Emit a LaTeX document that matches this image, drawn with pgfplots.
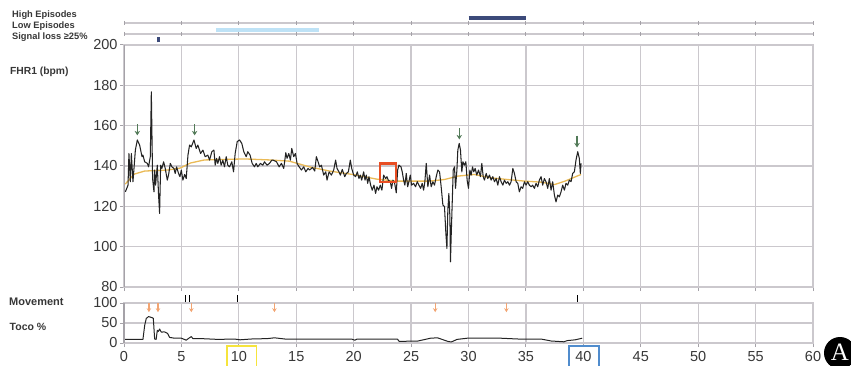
\documentclass[border=0pt]{standalone}
\usepackage{pgfplots}
\pgfplotsset{compat=1.18}
\usepackage{fontspec}
\setmainfont{Liberation Sans}
\newfontfamily\serifA{Liberation Serif}
\usetikzlibrary{arrows.meta}
\definecolor{gridc}{RGB}{203,200,205}
\definecolor{axc}{RGB}{165,162,168}
\definecolor{txt}{RGB}{55,55,55}
\definecolor{base}{RGB}{234,186,86}
\definecolor{navy}{RGB}{60,74,122}
\definecolor{lblue}{RGB}{190,226,246}
\definecolor{garrow}{RGB}{82,122,88}
\definecolor{oarrow}{RGB}{242,165,115}
\definecolor{yframe}{RGB}{246,228,60}
\definecolor{bframe}{RGB}{80,140,205}
\definecolor{trace}{RGB}{35,35,35}
\definecolor{roi}{RGB}{232,78,36}
\pgfplotsset{
  ecg/.style={scale only axis, width=689pt, xmin=0, xmax=60,
    xtick={0,5,...,60},
    grid=major, major grid style={gridc, line width=1.3pt},
    axis line style={gridc, line width=1.3pt},
    tick style={axc, line width=1pt}, tick align=outside, major tick length=4pt,
    xtick pos=bottom, ytick pos=left,
    ticklabel style={font=\fontsize{14.5}{14.5}\selectfont, text=txt},
    yticklabel style={xshift=1pt},
    /pgf/number format/assume math mode=true},
}
\begin{document}
\begin{tikzpicture}
\useasboundingbox (0pt,0pt) rectangle (851pt,-366pt);

% left labels
\begin{scope}[every node/.style={anchor=west, inner sep=0pt, text=txt}]
\node[font=\bfseries\fontsize{9.3}{9.3}\selectfont] at (12pt,-15pt) {High Episodes};
\node[font=\bfseries\fontsize{9.3}{9.3}\selectfont] at (12pt,-26pt) {Low Episodes};
\node[font=\bfseries\fontsize{9.3}{9.3}\selectfont] at (12pt,-37pt) {Signal loss ≥25\%};
\node[font=\bfseries\fontsize{10.3}{10.3}\selectfont] at (10pt,-72pt) {FHR1 (bpm)};
\node[font=\bfseries\fontsize{11}{11}\selectfont] at (9pt,-302pt) {Movement};
\node[font=\bfseries\fontsize{10.5}{10.5}\selectfont] at (9.5pt,-327pt) {Toco \%};
\end{scope}

% episode strips
\begin{axis}[at={(124pt,-45pt)}, anchor=south west, scale only axis, width=689pt, height=40pt,
  xmin=0, xmax=60, ymin=0, ymax=40, hide axis, clip=false]
\addplot[gridc, line width=1.5pt] coordinates {(0,22) (60,22)};
\addplot[gridc, line width=1.5pt] coordinates {(0,11) (60,11)};
\addplot[only marks, mark=|, mark size=2pt, mark options={axc, line width=1pt}] coordinates {
(0,22)(5,22)(10,22)(15,22)(20,22)(25,22)(30,22)(35,22)(40,22)(45,22)(50,22)(55,22)(60,22)
(0,11)(5,11)(10,11)(15,11)(20,11)(25,11)(30,11)(35,11)(40,11)(45,11)(50,11)(55,11)(60,11)};
\addplot[navy, line width=3.5pt] coordinates {(30,27) (35,27)};
\addplot[lblue, line width=3.5pt] coordinates {(8,15) (17,15)};
\addplot[navy, line width=3pt] coordinates {(3,2.5) (3,7.5)};
\end{axis}

% FHR panel
\begin{axis}[ecg, at={(124pt,-45pt)}, anchor=north west, height=242pt,
  ymin=80, ymax=200, ytick={80,100,...,200}, xticklabels={}]
\addplot[base, line width=1.3pt] coordinates {
(0.1,131)(0.9,136)(1.8,137.5)(3.8,138)(4.9,139)(5.8,141.5)(7,143)(10.5,143.5)(12.7,143)
(14.4,142.4)(16.2,139.5)(17.9,137.5)(19.9,135.8)(22,133.5)(23.7,132.5)(26.6,132.5)(27.9,133.3)
(29.1,135)(30.5,135.8)(32,134.1)(33.4,133.3)(34.9,132.5)(36.3,132)(37.5,130.8)(38.4,132.5)(39.8,135.8)};
\addplot[trace, line width=1.05pt, line join=round] coordinates {
(0.12,127.2)(0.35,130.5)(0.43,146.2)(0.55,132.2)(0.64,146.2)(0.78,132.2)(0.87,138.8)(0.99,147.9)
(1.16,152.9)(1.36,150.4)(1.57,144.6)(1.65,145.4)(1.80,142.1)(2.03,141.3)(2.14,139.6)(2.29,144.6)
(2.38,176.8)(2.49,133.8)(2.61,127.2)(2.67,138)(2.75,130.5)(2.90,140.4)(3.01,125.6)(3.1,116.5)
(3.19,140.4)(3.30,138.8)(3.45,142.1)(3.59,138.8)(3.77,133)(3.88,135.5)(4.03,141.3)(4.17,139.6)
(4.35,138.8)(4.46,136.3)(4.58,139.6)(4.75,136.3)(4.87,134.7)(4.99,138)(5.13,133)(5.28,135.8)
(5.42,133.8)(5.57,145.4)(5.71,150.4)(5.86,149.5)(6.09,152.9)(6.29,148.7)(6.43,150.4)(6.67,146.2)
(6.87,147.9)(7.07,144.6)(7.30,145.4)(7.45,142.9)(7.65,147.1)(7.83,147.9)(7.94,140.4)(8.06,143.8)
(8.17,141.3)(8.32,144.6)(8.46,140.4)(8.61,142.9)(8.75,139.6)(8.90,144.6)(9.04,140.4)(9.19,139.6)
(9.39,142.1)(9.54,137.1)(9.68,146.2)(9.86,152.1)(10.06,152.9)(10.26,151.2)(10.43,147.1)(10.64,144.6)
(10.78,147.1)(10.98,145.4)(11.16,141.3)(11.36,139.6)(11.51,141.3)(11.65,139.6)(11.88,141.3)(12.09,140.4)
(12.23,142.1)(12.46,140.4)(12.67,141.3)(12.87,142.9)
(12.99,142.9)(13.28,142.1)(13.51,139.6)(13.71,141.3)(13.91,138.8)(14.09,146.6)(14.20,143.8)(14.35,146.2)
(14.49,142.9)(14.61,148.7)(14.78,144.6)(14.93,146.2)(15.07,141.3)(15.25,139.6)(15.45,138)(15.65,139.6)
(15.83,137.1)(16.03,138.8)(16.17,138)(16.41,139.3)(16.61,137.5)(16.75,144.6)(16.90,142.1)(17.04,139.6)
(17.19,140.4)(17.39,135.5)(17.57,137.1)(17.68,133)(17.86,137.1)(18.06,135.5)(18.26,138)(18.43,142.9)
(18.55,138.8)(18.72,137.1)(18.84,135.5)(19.01,138.3)(19.22,134.7)(19.36,136.3)(19.54,137.1)(19.71,142.9)
(19.83,138.8)(20.00,135.5)(20.17,134.7)(20.32,137.1)(20.46,133.8)(20.58,135.5)(20.70,133)(20.87,137.1)
(20.99,133)(21.10,135.5)(21.22,131.4)(21.33,134.7)(21.48,130.5)(21.62,128)(21.77,130.5)(21.91,126.4)
(22.03,129.7)(22.17,128)(22.32,130.5)(22.46,128)(22.61,135.5)(22.78,133.8)(22.90,134.7)(23.01,133)
(23.19,132.2)(23.30,128.9)(23.42,133)(23.57,131.4)(23.71,126.7)(23.83,138)(23.94,140.4)(24.12,139.6)
(24.23,137.1)(24.35,133)(24.46,130.5)(24.58,136.3)(24.70,129.7)(24.81,132.2)(24.93,135.5)(25.04,130.5)
(25.22,131.4)(25.39,129.7)(25.54,132.2)(25.68,130.5)(25.83,128.9)(25.97,131.4)(26.09,128)(26.20,132.2)
(26.32,141.3)(26.46,129.7)(26.61,135.5)(26.75,129.7)(26.90,132.2)(27.04,130.5)(27.19,134.7)(27.33,138)
(27.48,137.1)(27.62,129.7)(27.77,120.6)(27.91,119.8)(28.03,106.5)(28.12,99.1)(28.20,118.1)(28.29,126.4)
(28.38,114.8)(28.43,92.5)(28.49,104.9)(28.58,121.4)(28.67,138)(28.78,139.6)(28.87,128.9)(28.99,138)
(29.07,147.9)(29.19,151.2)(29.30,147.9)(29.42,137.1)(29.51,142.1)(29.65,140.4)(29.77,142.1)(29.88,133)
(30.0,128.9)(30.12,138)(30.23,135.5)(30.35,139.6)(30.46,137.1)(30.58,138.8)(30.72,135.5)(30.87,138)
(31.04,134.7)(31.16,141.3)(31.28,134.7)(31.39,133)(31.54,136.3)(31.68,133.8)(31.83,135.5)(31.97,133)
(32.12,134.7)(32.26,132.2)(32.41,133.8)(32.55,130.5)(32.70,134.7)(32.84,132.2)(32.99,130.5)(33.13,133)
(33.28,131.4)(33.42,132.2)(33.57,130.5)(33.71,132.2)(33.86,138.8)(34.0,136.3)(34.15,132.2)(34.29,131.4)
(34.43,127.2)(34.58,129.7)(34.72,128.9)(34.87,132.2)(35.01,130.5)(35.16,132.2)(35.30,130.5)(35.45,129.7)
(35.59,130.5)(35.74,128.9)(35.88,131.4)(36.03,129.7)(36.17,133)(36.32,134.7)(36.46,130.5)(36.61,133.8)
(36.75,132.2)(36.90,128.9)(37.04,133.8)(37.19,128)(37.33,132.2)(37.48,125.6)(37.62,122.2)(37.77,125.6)
(37.91,124.7)(38.06,127.2)(38.20,130.5)(38.35,128)(38.49,131.4)(38.64,130.5)(38.78,133)(38.93,132.2)
(39.07,136.3)(39.22,137.1)(39.36,142.9)(39.51,147.1)(39.65,143.8)(39.74,136.3)(39.80,141.3)};
% green arrows
\addplot[garrow, line width=1.3pt, -{Stealth[length=4.5pt,width=5.5pt]}] coordinates {(1.16,160.8)(1.16,155.2)};
\addplot[garrow, line width=1.3pt, -{Stealth[length=4.5pt,width=5.5pt]}] coordinates {(6.15,160.8)(6.15,155.2)};
\addplot[garrow, line width=1.3pt, -{Stealth[length=4.5pt,width=5.5pt]}] coordinates {(29.2,158.8)(29.2,153.2)};
\addplot[garrow, line width=1.3pt, -{Stealth[length=4.5pt,width=5.5pt]}] coordinates {(39.45,155)(39.45,149.2)};
\draw[axc, line width=2pt] (axis cs:0,80) -- (axis cs:0,200);
\end{axis}

% marked region (absolute position of the highlighted window)
\draw[roi, line width=2.2pt] (380pt,-163.5pt) rectangle (396pt,-182pt);

% Toco panel
\begin{axis}[ecg, at={(124pt,-343pt)}, anchor=south west, height=40pt, clip=false,
  ymin=0, ymax=100, ytick={0,50,100},
  xticklabel style={anchor=base, yshift=-14.5pt}]
\addplot[trace, line width=1pt, line join=round] coordinates {
(0,9)(1.65,9)(1.8,44)(1.94,61.5)(2.14,66)(2.38,64)(2.55,62)(2.67,10)(2.8,9)(2.9,31.6)(3.0,29)(3.1,35)
(3.25,27)(3.5,28)(3.8,24)(3.97,14)(4.4,12)(5.0,12)(5.42,7)(5.6,11)(5.86,16)(6.0,11)(6.7,11)(8.2,9)
(9.6,10)(10.1,8)(11.1,10)(12.5,11)(13.1,13)(14,10)(16.9,10)(19.8,10)(20.1,7)(20.3,10)(23.8,10)
(23.97,4)(25.6,5)(26.7,12)(27.3,13)(28.2,4)(28.5,2.5)(29.0,9)(29.9,12)(32.8,12)(34.3,10)(36.3,10)
(37.2,5)(38.3,3)(38.6,6)(39.3,8)(39.9,12)};
% contraction markers
\addplot[oarrow, line width=1.2pt, -{Stealth[length=4pt,width=4.5pt]}] coordinates {(2.17,100)(2.17,77)};
\addplot[oarrow, line width=1.2pt, -{Stealth[length=4pt,width=4.5pt]}] coordinates {(2.96,100)(2.96,77)};
\addplot[oarrow, line width=1.2pt, -{Stealth[length=4pt,width=4.5pt]}] coordinates {(5.86,100)(5.86,77)};
\addplot[oarrow, line width=1.2pt, -{Stealth[length=4pt,width=4.5pt]}] coordinates {(13.1,100)(13.1,77)};
\addplot[oarrow, line width=1.2pt, -{Stealth[length=4pt,width=4.5pt]}] coordinates {(27.1,100)(27.1,77)};
\addplot[oarrow, line width=1.2pt, -{Stealth[length=4pt,width=4.5pt]}] coordinates {(33.3,100)(33.3,77)};
% movement marks
\addplot[black, line width=1pt] coordinates {(5.36,102)(5.36,121)};
\addplot[black, line width=1pt] coordinates {(5.70,102)(5.70,121)};
\addplot[black, line width=1pt] coordinates {(9.85,102)(9.85,121)};
\addplot[black, line width=1pt] coordinates {(39.5,102)(39.5,121)};
\draw[axc, line width=2pt] (axis cs:0,0) -- (axis cs:0,100);
\end{axis}

% highlighted tick labels
\draw[yframe, line width=1.8pt] (227pt,-346pt) rectangle (256.5pt,-370pt);
\draw[bframe, line width=1.8pt] (569pt,-346pt) rectangle (599pt,-370pt);

% panel badge
\fill[black] (840pt,-353pt) circle (16pt);
\node[text=white, font=\serifA\fontsize{25}{25}\selectfont, inner sep=0pt] at (840pt,-352pt) {A};
\end{tikzpicture}
\end{document}
